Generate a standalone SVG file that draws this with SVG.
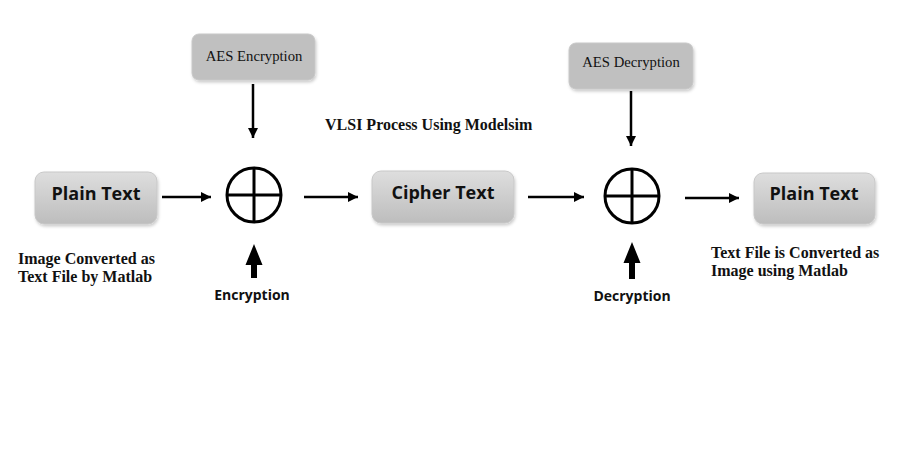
<svg xmlns="http://www.w3.org/2000/svg" width="910" height="458" viewBox="0 0 910 458">
<defs>
<linearGradient id="g" x1="0" y1="0" x2="0" y2="1">
<stop offset="0" stop-color="#dedede"/>
<stop offset="1" stop-color="#bdbdbd"/>
</linearGradient>
<filter id="sh" x="-10%" y="-10%" width="130%" height="140%">
<feDropShadow dx="1" dy="2" stdDeviation="1.5" flood-color="#000" flood-opacity="0.2"/>
</filter>
<marker id="ah" viewBox="0 0 10 10" refX="10" refY="5" markerWidth="10" markerHeight="10" markerUnits="userSpaceOnUse" orient="auto">
<path d="M0,0 L10,5 L0,10 z" fill="#000"/>
</marker>
</defs>
<style>
.box{fill:url(#g);stroke:#c8c8c8;stroke-width:1;filter:url(#sh)}
.aes{fill:#c0c0c0;stroke:#c8c8c8;stroke-width:1;filter:url(#sh)}
.bt{font-family:"Open Sans","DejaVu Sans",sans-serif;font-weight:bold;font-size:18px;fill:#111;text-anchor:middle}
.st{font-family:"Liberation Serif",serif;font-size:14.7px;fill:#111;text-anchor:middle}
.lb{font-family:"Liberation Serif",serif;font-weight:bold;font-size:16px;fill:#111}
.sl{font-family:"Open Sans","DejaVu Sans",sans-serif;font-weight:bold;font-size:14px;fill:#111;text-anchor:middle}
.ar{stroke:#000;stroke-width:2.5;fill:none;marker-end:url(#ah)}
.xo{fill:none;stroke:#000;stroke-width:3}
</style>
<rect width="910" height="458" fill="#fff"/>
<g id="plain1"><rect class="box" x="35" y="172" width="122" height="52" rx="9"/><text class="bt" x="96" y="200">Plain Text</text></g>
<g id="xor1"><circle class="xo" cx="254" cy="195" r="27"/><line class="xo" x1="227" y1="195" x2="281" y2="195"/><line class="xo" x1="254" y1="168" x2="254" y2="222"/></g>
<g id="cipher"><rect class="box" x="372" y="171" width="142" height="52" rx="9"/><text class="bt" x="443" y="199">Cipher Text</text></g>
<g id="xor2"><circle class="xo" cx="632" cy="196" r="27"/><line class="xo" x1="605" y1="196" x2="659" y2="196"/><line class="xo" x1="632" y1="169" x2="632" y2="223"/></g>
<g id="plain2"><rect class="box" x="754" y="173" width="121" height="51" rx="9"/><text class="bt" x="814" y="200">Plain Text</text></g>
<g id="aesenc"><rect class="aes" x="192" y="34" width="123" height="46" rx="7"/><text class="st" x="254" y="61">AES Encryption</text></g>
<g id="aesdec"><rect class="aes" x="569" y="43" width="124" height="46" rx="7"/><text class="st" x="631" y="67">AES Decryption</text></g>
<g id="labels">
<text class="lb" x="325" y="130">VLSI Process Using Modelsim</text>
<text class="lb" x="18" y="264">Image Converted as</text>
<text class="lb" x="18" y="282">Text File by Matlab</text>
<text class="lb" x="711" y="258">Text File is Converted as</text>
<text class="lb" x="711" y="276">Image using Matlab</text>
<text class="sl" x="252" y="300">Encryption</text>
<text class="sl" x="632" y="301">Decryption</text>
</g>
<g id="connectors">
<line class="ar" x1="162" y1="197" x2="211" y2="197"/>
<line class="ar" x1="304" y1="197" x2="358" y2="197"/>
<line class="ar" x1="528" y1="197" x2="584" y2="197"/>
<line class="ar" x1="685" y1="198" x2="739" y2="198"/>
<line class="ar" x1="253" y1="84" x2="253" y2="138"/>
<line class="ar" x1="631" y1="91" x2="631" y2="146"/>
<path d="M254,244 L262.5,265 L257,265 L257,278 L251,278 L251,265 L245.5,265 z" fill="#000"/>
<path d="M632,242 L640.5,263 L635,263 L635,279 L629,279 L629,263 L623.5,263 z" fill="#000"/>
</g>
</svg>
